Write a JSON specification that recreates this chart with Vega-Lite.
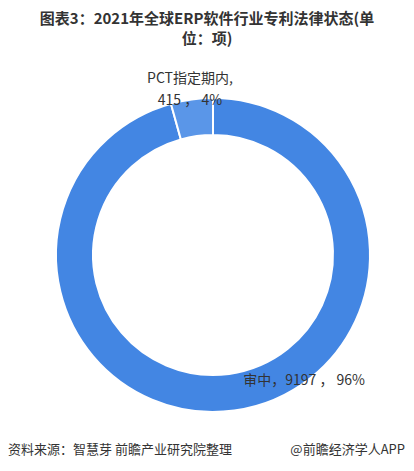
{
  "$schema": "https://vega.github.io/schema/vega-lite/v6.json",
  "width": 402,
  "height": 400,
  "autosize": {"type": "none"},
  "padding": {"left": 12, "top": 55, "right": 0, "bottom": 16},
  "background": "#ffffff",
  "config": {
    "view": {"stroke": null},
    "font": "Noto Sans CJK SC",
    "text": {"font": "Noto Sans CJK SC"}
  },
  "title": {
    "text": ["图表3：2021年全球ERP软件行业专利法律状态(单", "位：项)"],
    "anchor": "middle",
    "frame": "group",
    "dx": -6,
    "font": "Noto Sans CJK SC",
    "fontSize": 15,
    "fontWeight": "bold",
    "color": "#333333",
    "lineHeight": 20,
    "offset": 8
  },
  "data": {
    "values": [
      {"status": "审中", "count": 9197, "pct": "96%"},
      {"status": "PCT指定期内", "count": 415, "pct": "4%"}
    ]
  },
  "transform": [
    {"calculate": "datum.status + '，' + datum.count + ' ， ' + datum.pct", "as": "label_inline"},
    {"calculate": "datum.status + ',\\n' + datum.count + ' ， ' + datum.pct", "as": "label_wrapped"}
  ],
  "layer": [
    {
      "mark": {"type": "arc", "outerRadius": 157, "innerRadius": 120, "stroke": "#ffffff", "strokeWidth": 2},
      "encoding": {
        "theta": {"field": "count", "type": "quantitative", "stack": true},
        "order": {"field": "count", "sort": "descending"},
        "color": {
          "field": "status",
          "type": "nominal",
          "scale": {"domain": ["审中", "PCT指定期内"], "range": ["#4386e3", "#5a96e8"]},
          "legend": null
        }
      }
    },
    {
      "mark": {"type": "text", "radius": 127, "align": "left", "baseline": "middle", "dx": 13, "fontSize": 14, "color": "#333333"},
      "encoding": {
        "theta": {"field": "count", "type": "quantitative", "stack": true},
        "order": {"field": "count", "sort": "descending"},
        "text": {"condition": {"test": "datum.status === '审中'", "field": "label_inline", "type": "nominal"}, "value": ""}
      }
    },
    {
      "mark": {"type": "text", "radius": 178, "align": "center", "baseline": "middle", "dx": 1, "fontSize": 14, "lineHeight": 22, "lineBreak": "\n", "color": "#333333"},
      "encoding": {
        "theta": {"field": "count", "type": "quantitative", "stack": true},
        "order": {"field": "count", "sort": "descending"},
        "text": {"condition": {"test": "datum.status === 'PCT指定期内'", "field": "label_wrapped", "type": "nominal"}, "value": ""}
      }
    },
    {
      "data": {"values": [{"note": "资料来源：智慧芽 前瞻产业研究院整理"}]},
      "mark": {"type": "text", "x": -4, "y": 395, "align": "left", "baseline": "middle", "fontSize": 13, "color": "#333333"},
      "encoding": {"text": {"field": "note", "type": "nominal"}}
    },
    {
      "data": {"values": [{"note": "@前瞻经济学人APP"}]},
      "mark": {"type": "text", "x": 393, "y": 395, "align": "right", "baseline": "middle", "fontSize": 13, "color": "#333333"},
      "encoding": {"text": {"field": "note", "type": "nominal"}}
    }
  ]
}
